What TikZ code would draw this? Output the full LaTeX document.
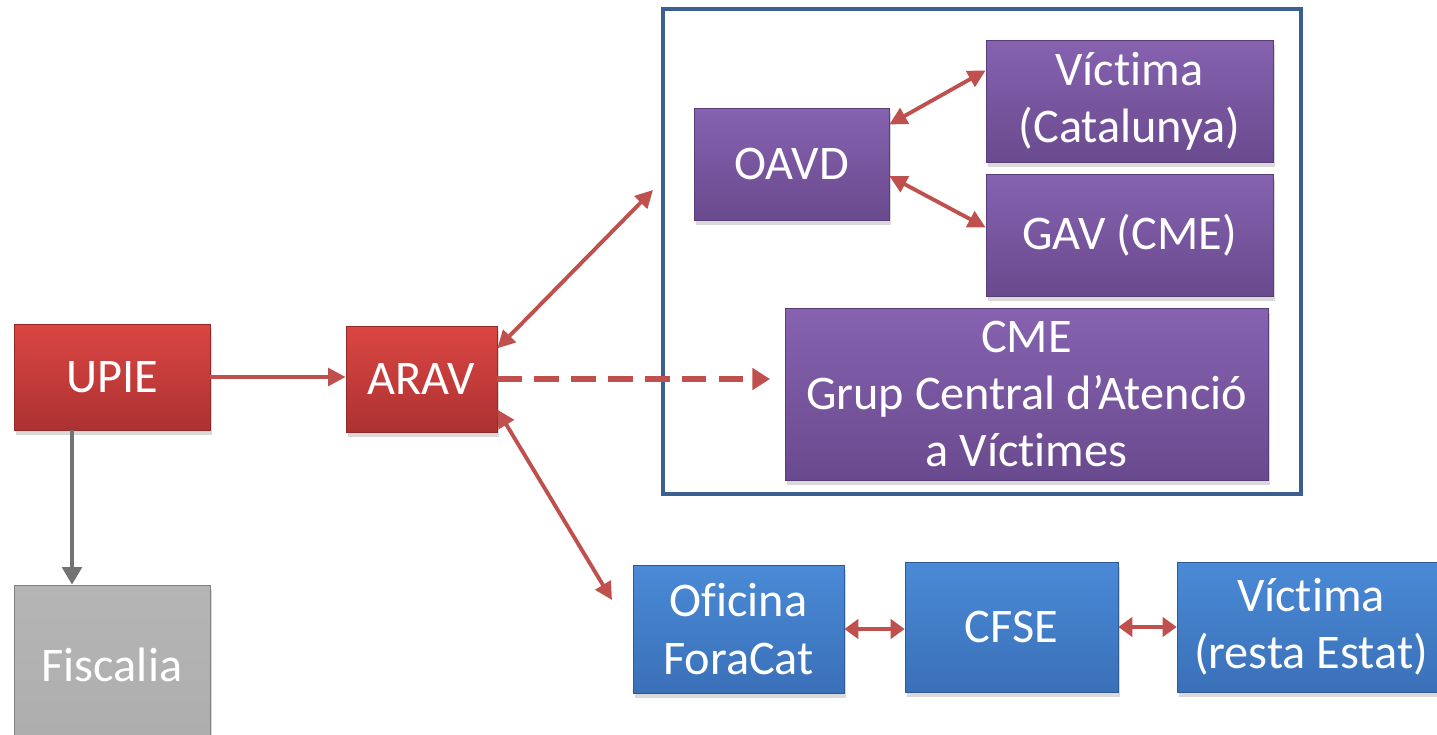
\documentclass[tikz,border=0pt]{standalone}
\usepackage{fontspec}
\setmainfont[Ligatures=NoCommon]{Carlito}
\usetikzlibrary{arrows.meta,shadows,calc}
\definecolor{upred}{HTML}{C0504D}
\definecolor{framebl}{HTML}{3B5F8E}
\definecolor{redtop}{RGB}{218,70,66}
\definecolor{redbot}{RGB}{172,50,50}
\definecolor{redline}{RGB}{150,40,40}
\definecolor{purtop}{RGB}{134,98,176}
\definecolor{purbot}{RGB}{106,74,142}
\definecolor{purline}{RGB}{90,60,120}
\definecolor{bluetop}{RGB}{74,138,214}
\definecolor{bluebot}{RGB}{58,112,184}
\definecolor{blueline}{RGB}{45,90,150}
\begin{document}
\begin{tikzpicture}[x=0.02cm,y=-0.02cm,
    box/.style={rectangle,draw=#1,line width=0.4pt,text=white,align=center,
      font=\fontsize{27.5}{32.5}\selectfont,
      drop shadow={opacity=0.3,shadow xshift=0.4mm,shadow yshift=-1mm}},
    redbox/.style={box=redline,top color=redtop,bottom color=redbot},
    graybox/.style={box=gray,top color=gray!58,bottom color=gray!64},
    purplebox/.style={box=purline,top color=purtop,bottom color=purbot},
    bluebox/.style={box=blueline,top color=bluetop,bottom color=bluebot},
    link/.style={upred,line width=2.2pt,{Triangle[length=10pt,width=10pt]}-{Triangle[length=10pt,width=10pt]}},
    shortlink/.style={upred,line width=2.8pt,{Triangle[length=8pt,width=11pt]}-{Triangle[length=8pt,width=11pt]}}]
\useasboundingbox (0,0) rectangle (1437,734);
\draw[framebl,line width=2.4pt] (663,9) rectangle (1301,494);
\node[redbox,minimum width=3.92cm,minimum height=2.12cm] (upie) at (112,377) {UPIE};
\node[graybox,minimum width=3.92cm,minimum height=3.2cm] (fisc) at (112,665) {Fiscalia};
\node[redbox,minimum width=3.02cm,minimum height=2.12cm] (arav) at (421.5,379) {ARAV};
\node[purplebox,minimum width=3.9cm,minimum height=2.24cm] (oavd) at (791.5,164) {OAVD};
\node[purplebox,minimum width=5.74cm,minimum height=2.44cm] (vcat) at (1129.5,101) {Víctima\\(Catalunya)};
\node[purplebox,minimum width=5.74cm,minimum height=2.44cm] (gav) at (1129.5,235) {GAV (CME)};
\node[purplebox,minimum width=9.66cm,minimum height=3.44cm] (cme) at (1026.5,394) {CME\\Grup Central d’Atenció\\a Víctimes};
\node[bluebox,minimum width=4.22cm,minimum height=2.56cm] (fora) at (738.5,629) {Oficina\\ForaCat};
\node[bluebox,minimum width=4.26cm,minimum height=2.6cm] (cfse) at (1011.5,627) {CFSE};
\node[bluebox,minimum width=5.36cm,minimum height=2.6cm] (vest) at (1311,627) {Víctima\\(resta Estat)};
\coordinate (frametip) at (653,190);
\coordinate (cmetip) at (770,379);
\coordinate (foratip) at (612,600);
\draw[upred,line width=2.2pt,-{Triangle[length=10pt,width=10pt]}] (upie.east) -- (upie.east -| arav.west);
\draw[gray!90!black,line width=2.8pt,-{Triangle[length=10pt,width=11pt]}] ($(upie.south)+(-40,0)$) -- ($(fisc.north)+(-40,0)$);
\draw[link] (arav.22) -- (frametip);
\draw[link] (arav.-22) -- (foratip);
\draw[upred,line width=3.2pt,dash pattern=on 14pt off 7pt,-{Triangle[length=10pt,width=12pt]}] (arav.east) -- (cmetip);
\draw[link] (oavd.22) -- (vcat.168);
\draw[link] (oavd.-7) -- (gav.177);
\draw[shortlink] (fora.east) -- (fora.east -| cfse.west);
\draw[shortlink] (cfse.east) -- (cfse.east -| vest.west);
\end{tikzpicture}
\end{document}
